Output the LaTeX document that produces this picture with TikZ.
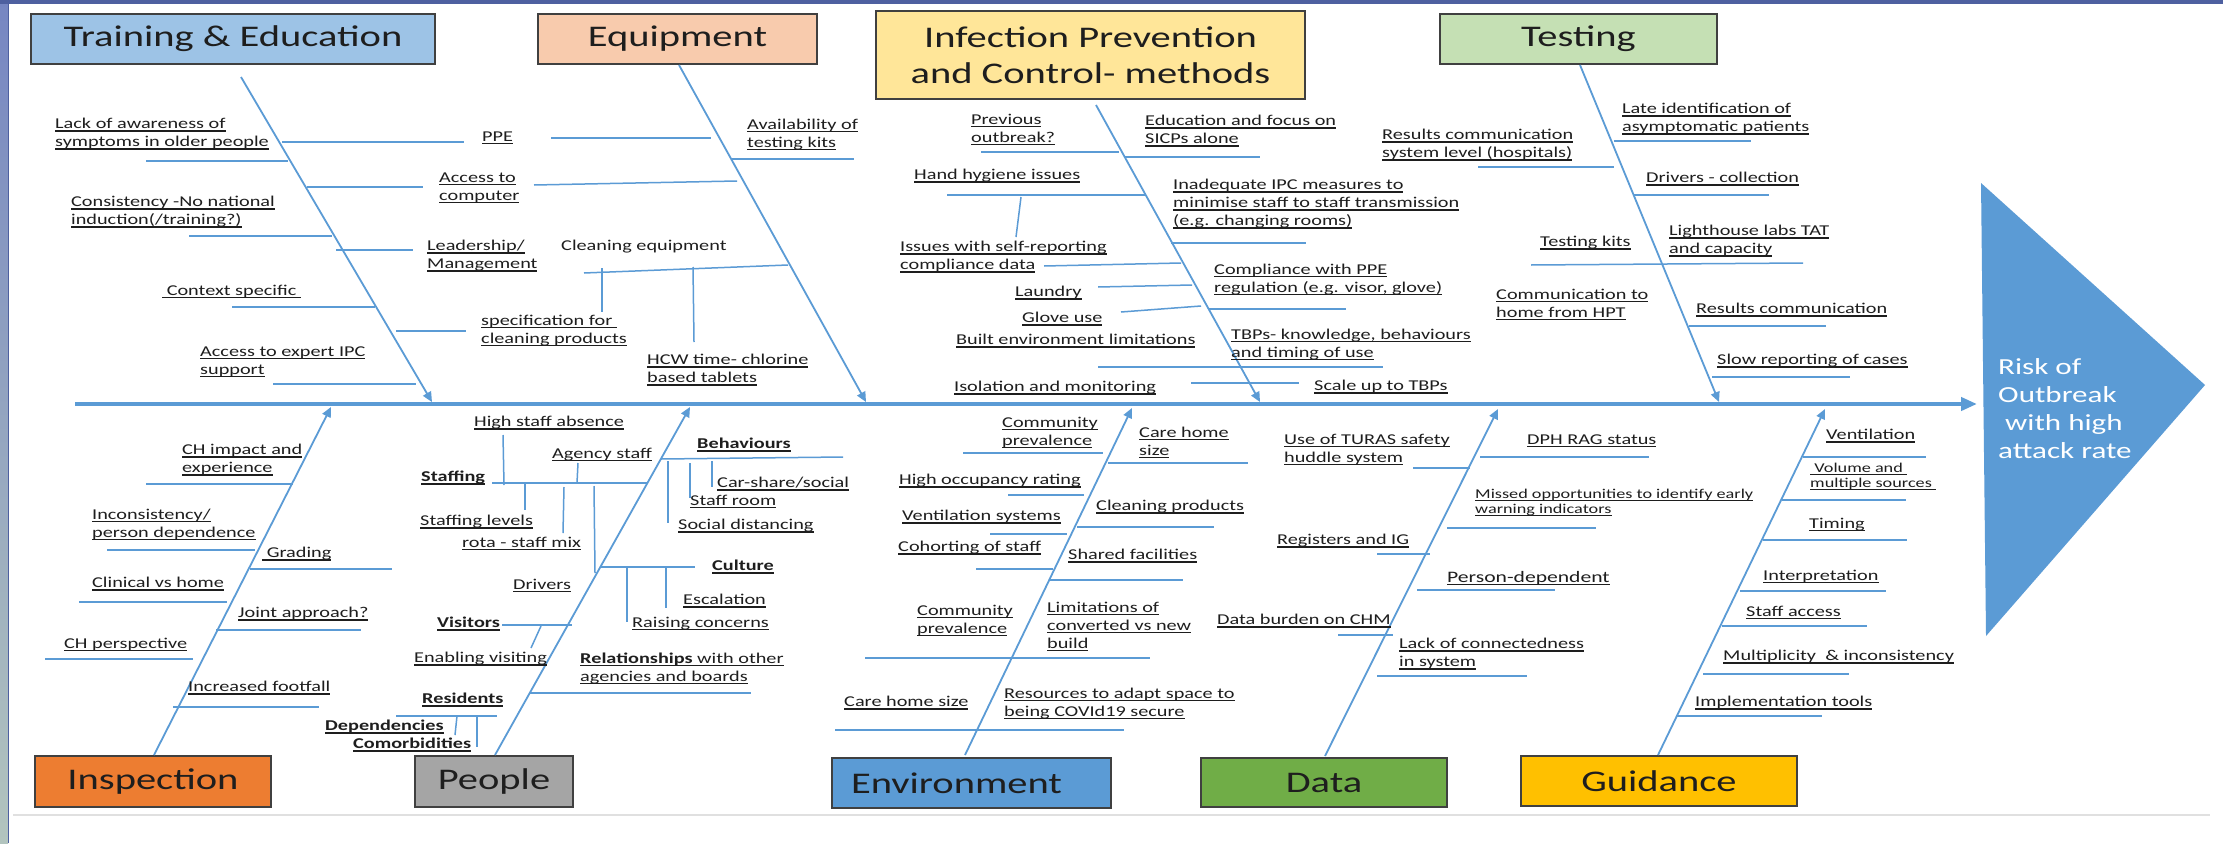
\documentclass[tikz,border=0pt]{standalone}
\usepackage{fontspec}
\setmainfont{Carlito}[FakeStretch=1.35]
\usetikzlibrary{arrows.meta}
\definecolor{bone}{RGB}{91,155,213}
\definecolor{bord}{RGB}{64,64,64}
\definecolor{cTE}{RGB}{157,195,230}
\definecolor{cEQ}{RGB}{248,203,173}
\definecolor{cIPC}{RGB}{255,230,153}
\definecolor{cTS}{RGB}{197,224,180}
\definecolor{cIN}{RGB}{237,125,49}
\definecolor{cPE}{RGB}{165,165,165}
\definecolor{cEN}{RGB}{91,155,213}
\definecolor{cDA}{RGB}{112,173,71}
\definecolor{cGU}{RGB}{255,192,0}
\definecolor{frA}{RGB}{78,96,160}
\definecolor{frB}{RGB}{118,134,194}
\definecolor{frC}{RGB}{178,196,190}
\definecolor{txt}{RGB}{30,30,30}
\newsavebox\ulbox
\newcommand\Ul[1]{\leavevmode\sbox\ulbox{#1}\rlap{\rule[-2.6pt]{\wd\ulbox}{1.2pt}}\usebox\ulbox}
\begin{document}
\begin{tikzpicture}[x=1pt,y=-1pt,
  lab/.style={font=\fontsize{15}{18}\selectfont, inner sep=0pt, align=left, anchor=west, text=txt},
  labs/.style={lab, font=\fontsize{13.5}{15}\selectfont},
  ttl/.style={draw=bord, line width=1.6pt, font=\fontsize{30}{36}\selectfont, inner sep=0pt, align=center, text=txt},
  rib/.style={draw=bone, line width=1.5pt},
  bonearrow/.style={draw=bone, line width=1.8pt, -{Triangle[length=10pt,width=9pt]}},
  spine/.style={draw=bone, line width=4pt, -{Triangle[length=16pt,width=13pt]}}]
\useasboundingbox (0,0) rectangle (2223,843);
\fill[white] (0,0) rectangle (2223,843);
% frame
\shade[top color=frB, bottom color=frC] (0,0) rectangle (8,843);
\draw[frA, line width=1pt] (8.5,4) -- (8.5,843);
\fill[frA] (0,0) rectangle (2223,4.5);
\draw[black!12, line width=2.5pt] (13,815) -- (2210,815);

% title boxes
\node[ttl, fill=cTE, minimum width=404pt, minimum height=50pt] (tTE) at (233,39) {Training \& Education};
\node[ttl, fill=cEQ, minimum width=279pt, minimum height=50pt] (tEQ) at (677.5,39) {Equipment};
\node[ttl, fill=cIPC, minimum width=429pt, minimum height=88pt] (tIPC) at (1090.5,55) {Infection Prevention\\and Control- methods};
\node[ttl, fill=cTS, minimum width=277pt, minimum height=50pt] (tTS) at (1578.5,39) {Testing};
\node[ttl, fill=cIN, minimum width=236pt, minimum height=51pt] (tIN) at (153,781.5) {Inspection};
\node[ttl, fill=cPE, minimum width=158pt, minimum height=51pt] (tPE) at (494,781.5) {People};
\node[ttl, fill=cEN, minimum width=279pt, minimum height=50pt, text width=241pt, align=left, inner xsep=19pt] (tEN) at (971.5,783) {Environment};
\node[ttl, fill=cDA, minimum width=246pt, minimum height=49pt] (tDA) at (1324,782.5) {Data};
\node[ttl, fill=cGU, minimum width=276pt, minimum height=50pt] (tGU) at (1659,781) {Guidance};

% spine and head
\coordinate (sp0) at (75,404);
\coordinate (sp1) at (1977,404);
\draw[spine] (sp0) -- (sp1);
\coordinate (hA) at (1981,183);
\coordinate (hB) at (2205,385);
\coordinate (hC) at (1986,636);
\fill[bone] (hA) -- (hB) -- (hC) -- cycle;
\node[inner sep=0pt, anchor=west, align=left, text=white, font=\fontsize{23}{28}\selectfont] (risk) at (1998,409) {Risk of\\Outbreak\\\hspace{7pt}with high\\attack rate};

% bones
\coordinate (bTEs) at (241,77);   \coordinate (bTEe) at (432,402);
\coordinate (bEQs) at (679,65);   \coordinate (bEQe) at (866,402);
\coordinate (bIPs) at (1096,105); \coordinate (bIPe) at (1260,402);
\coordinate (bTSs) at (1580,65);  \coordinate (bTSe) at (1719,402);
\coordinate (bINs) at (154,755);  \coordinate (bINe) at (331,407);
\coordinate (bPEs) at (495,755);  \coordinate (bPEe) at (690,407);
\coordinate (bENs) at (965,755);  \coordinate (bENe) at (1132,408);
\coordinate (bDAs) at (1325,756); \coordinate (bDAe) at (1498,409);
\coordinate (bGUs) at (1658,755); \coordinate (bGUe) at (1825,409);
\foreach \b in {TE,EQ,IP,TS,IN,PE,EN,DA,GU} {\draw[bonearrow] (b\b s) -- (b\b e);}

% ribs: training / equipment
\foreach \a/\b in {
 {282,142}/{464,142}, {551,138}/{711,138}, {146,161}/{288,161}, {307,187}/{423,187},
 {534,185}/{737,181}, {189,236}/{332,236}, {336,250}/{413,250}, {232,307}/{375,307},
 {396,331}/{466,331}, {273,384}/{416,384}, {731,159}/{854,159}, {584,273}/{788,265},
 {602,268}/{602,312}, {693,267}/{694,342},
% IPC
 {981,152}/{1119,152}, {1124,157}/{1260,157}, {947,195}/{1146,195}, {1021,197}/{1016,237},
 {1171,243}/{1306,243}, {1044,266}/{1181,263}, {1098,287}/{1192,285}, {1121,312}/{1201,306},
 {1208,309}/{1346,309}, {1098,367}/{1383,367}, {1191,383}/{1299,383},
% testing
 {1614,141}/{1751,141}, {1478,167}/{1614,167}, {1633,195}/{1769,195}, {1531,265}/{1803,263},
 {1689,326}/{1826,326}, {1712,377}/{1850,377},
% inspection
 {146,484}/{293,484}, {107,550}/{255,550}, {250,569}/{392,569}, {79,602}/{227,602},
 {216,630}/{361,630}, {45,659}/{193,659}, {173,707}/{319,707},
% people
 {503,435}/{504,485}, {492,483}/{648,483}, {525,483}/{525,510}, {564,487}/{563,533},
 {578,463}/{577,483}, {594,486}/{595,573}, {661,459}/{843,457}, {668,461}/{668,523},
 {690,463}/{690,498}, {712,461}/{712,487}, {601,567}/{695,567}, {627,567}/{627,622},
 {666,567}/{666,608}, {502,625}/{572,625}, {541,626}/{531,648}, {530,693}/{751,693},
 {396,716}/{497,716}, {457,716}/{455,735}, {477,716}/{477,747},
% environment
 {963,453}/{1103,453}, {1108,463}/{1248,463}, {1008,495}/{1084,495}, {1077,527}/{1214,527},
 {990,534}/{1067,534}, {976,569}/{1053,569}, {1050,580}/{1183,580}, {865,658}/{1150,658},
 {835,730}/{1124,730},
% data
 {1413,468}/{1470,468}, {1480,457}/{1649,457}, {1447,528}/{1596,528}, {1377,554}/{1430,554},
 {1417,590}/{1555,590}, {1338,635}/{1393,635}, {1377,676}/{1527,676},
% guidance
 {1803,457}/{1926,457}, {1782,500}/{1906,500}, {1763,540}/{1907,540}, {1740,591}/{1886,591},
 {1722,626}/{1867,626}, {1703,674}/{1849,674}, {1677,716}/{1822,716}}
 {\draw[rib] (\a) -- (\b);}

% labels: training & education / equipment
\node[lab] (l01) at (55,134) {\Ul{Lack of awareness of}\\\Ul{symptoms in older people}};
\node[lab] (l02) at (71,212) {\Ul{Consistency -No national}\\\Ul{induction(/training?)}};
\node[lab] (l03) at (162,292) {\Ul{\ Context specific\ }};
\node[lab] (l04) at (200,362) {\Ul{Access to expert IPC}\\\Ul{support}};
\node[lab] (l05) at (482,138) {\Ul{PPE}};
\node[lab] (l06) at (439,188) {\Ul{Access to}\\\Ul{computer}};
\node[lab] (l07) at (427,256) {\Ul{Leadership/}\\\Ul{Management}};
\node[lab] (l08) at (481,331) {\Ul{specification for\ }\\\Ul{cleaning products}};
\node[lab] (l09) at (747,134.5) {\Ul{Availability of}\\\Ul{testing kits}};
\node[lab] (l10) at (561,247) {Cleaning equipment};
\node[lab] (l11) at (647,370) {\Ul{HCW time- chlorine}\\\Ul{based tablets}};
% IPC
\node[lab] (l12) at (971,129.5) {\Ul{Previous}\\\Ul{outbreak?}};
\node[lab] (l13) at (1145,131) {\Ul{Education and focus on}\\\Ul{SICPs alone}};
\node[lab] (l14) at (914,176) {\Ul{Hand hygiene issues}};
\node[lab] (l15) at (1173,204) {\Ul{Inadequate IPC measures to}\\\Ul{minimise staff to staff transmission}\\\Ul{(e.g. changing rooms)}};
\node[lab] (l16) at (900,257) {\Ul{Issues with self-reporting}\\\Ul{compliance data}};
\node[lab] (l17) at (1015,293) {\Ul{Laundry}};
\node[lab] (l18) at (1214,279.5) {\Ul{Compliance with PPE}\\\Ul{regulation (e.g. visor, glove)}};
\node[lab] (l19) at (1022,319) {\Ul{Glove use}};
\node[lab] (l20) at (956,341) {\Ul{Built environment limitations}};
\node[lab] (l21) at (1231,344.5) {\Ul{TBPs- knowledge, behaviours}\\\Ul{and timing of use}};
\node[lab] (l22) at (954,388) {\Ul{Isolation and monitoring}};
\node[lab] (l23) at (1314,387) {\Ul{Scale up to TBPs}};
% testing
\node[lab] (l24) at (1622,119) {\Ul{Late identification of}\\\Ul{asymptomatic patients}};
\node[lab] (l25) at (1382,145) {\Ul{Results communication}\\\Ul{system level (hospitals)}};
\node[lab] (l26) at (1646,179) {\Ul{Drivers - collection}};
\node[lab] (l27) at (1669,241) {\Ul{Lighthouse labs TAT}\\\Ul{and capacity}};
\node[lab] (l28) at (1540,243) {\Ul{Testing kits}};
\node[lab] (l29) at (1496,305) {\Ul{Communication to}\\\Ul{home from HPT}};
\node[lab] (l30) at (1696,310) {\Ul{Results communication}};
\node[lab] (l31) at (1717,361) {\Ul{Slow reporting of cases}};
% inspection
\node[lab] (l32) at (182,460) {\Ul{CH impact and}\\\Ul{experience}};
\node[lab] (l33) at (92,524.5) {\Ul{Inconsistency/}\\\Ul{person dependence}};
\node[lab] (l34) at (262,554) {\Ul{\ Grading}};
\node[lab] (l35) at (92,584) {\Ul{Clinical vs home}};
\node[lab] (l36) at (238,614) {\Ul{Joint approach?}};
\node[lab] (l37) at (64,645) {\Ul{CH perspective}};
\node[lab] (l38) at (188,688) {\Ul{Increased footfall}};
% people
\node[lab] (l39) at (474,423) {\Ul{High staff absence}};
\node[lab] (l40) at (421,478) {\Ul{\textbf{Staffing}}};
\node[lab] (l41) at (420,522) {\Ul{Staffing levels}};
\node[lab] (l42) at (462,544) {\Ul{rota - staff mix}};
\node[lab] (l43) at (552,455) {\Ul{Agency staff}};
\node[lab] (l44) at (513,586) {\Ul{Drivers}};
\node[lab] (l45) at (697,445) {\Ul{\textbf{Behaviours}}};
\node[lab] (l46) at (717,484) {\Ul{Car-share/social}};
\node[lab] (l47) at (690,502) {\Ul{Staff room}};
\node[lab] (l48) at (678,526) {\Ul{Social distancing}};
\node[lab] (l49) at (712,567) {\Ul{\textbf{Culture}}};
\node[lab] (l50) at (683,601) {\Ul{Escalation}};
\node[lab] (l51) at (632,624) {\Ul{Raising concerns}};
\node[lab] (l52) at (437,624) {\Ul{\textbf{Visitors}}};
\node[lab] (l53) at (414,659) {\Ul{Enabling visiting}};
\node[lab] (l54) at (580,668.5) {\Ul{\textbf{Relationships} with other}\\\Ul{agencies and boards}};
\node[lab] (l55) at (422,700) {\Ul{\textbf{Residents}}};
\node[lab] (l56) at (325,727) {\Ul{\textbf{Dependencies}}};
\node[lab] (l57) at (353,745) {\Ul{\textbf{Comorbidities}}};
% environment
\node[lab] (l58) at (1002,433) {\Ul{Community}\\\Ul{prevalence}};
\node[lab] (l59) at (1139,442.5) {\Ul{Care home}\\\Ul{size}};
\node[lab] (l60) at (899,481) {\Ul{High occupancy rating}};
\node[lab] (l61) at (1096,507) {\Ul{Cleaning products}};
\node[lab] (l62) at (902,517) {\Ul{Ventilation systems}};
\node[lab] (l63) at (898,548) {\Ul{Cohorting of staff}};
\node[lab] (l64) at (1068,556) {\Ul{Shared facilities}};
\node[lab] (l65) at (917,621) {\Ul{Community}\\\Ul{prevalence}};
\node[lab] (l66) at (1047,627) {\Ul{Limitations of}\\\Ul{converted vs new}\\\Ul{build}};
\node[lab] (l67) at (844,703) {\Ul{Care home size}};
\node[lab] (l68) at (1004,703.5) {\Ul{Resources to adapt space to}\\\Ul{being COVId19 secure}};
% data
\node[lab] (l69) at (1284,449.5) {\Ul{Use of TURAS safety}\\\Ul{huddle system}};
\node[lab] (l70) at (1527,441) {\Ul{DPH RAG status}};
\node[labs] (l71) at (1475,502.5) {\Ul{Missed opportunities to identify early}\\\Ul{warning indicators}};
\node[lab] (l72) at (1277,541) {\Ul{Registers and IG}};
\node[lab, font=\fontsize{16}{19}\selectfont] (l73) at (1447,578) {\Ul{Person-dependent}};
\node[lab] (l74) at (1217,621) {\Ul{Data burden on CHM}};
\node[lab] (l75) at (1399,654) {\Ul{Lack of connectedness}\\\Ul{in system}};
% guidance
\node[lab] (l76) at (1826,436) {\Ul{Ventilation}};
\node[labs] (l77) at (1810,477) {\Ul{\ Volume and\ }\\\Ul{multiple sources\ }};
\node[lab] (l78) at (1809,525) {\Ul{Timing}};
\node[lab] (l79) at (1763,577) {\Ul{Interpretation}};
\node[lab] (l80) at (1746,613) {\Ul{Staff access}};
\node[lab] (l81) at (1723,657) {\Ul{Multiplicity\ \ \& inconsistency}};
\node[lab] (l82) at (1695,703) {\Ul{Implementation tools}};
\end{tikzpicture}
\end{document}
